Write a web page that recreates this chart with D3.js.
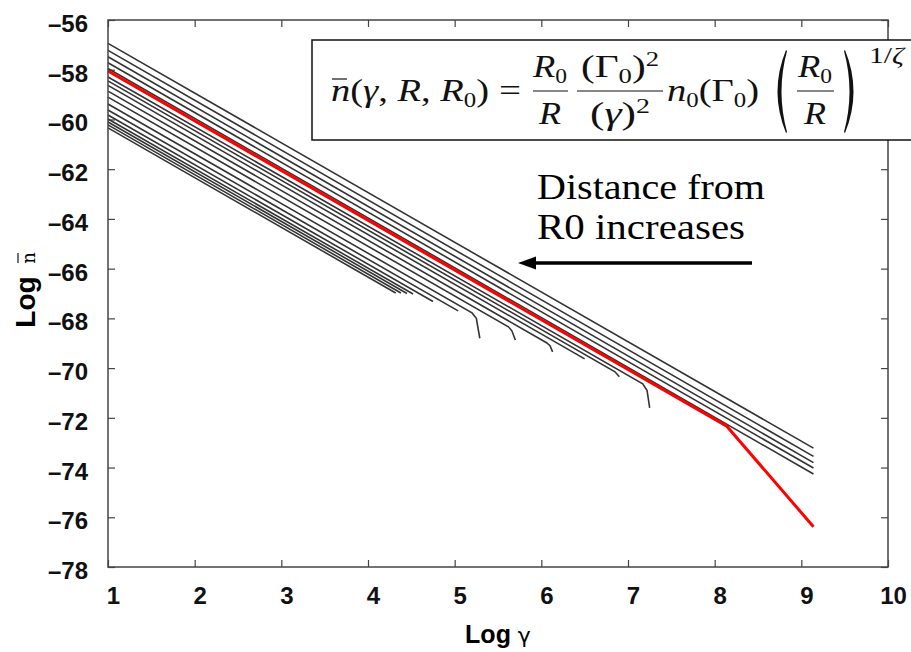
<!DOCTYPE html>
<meta charset="utf-8">
<style>
    body { margin: 0; background: #fff; }
    .axis text { font: bold 24px "Liberation Sans Narrow", "Liberation Sans", Arial, sans-serif; fill: #111; }
    .axis line { stroke: #444; stroke-width: 1.2; }
    .curve { fill: none; stroke: #333; stroke-width: 1.6; }
    .red { fill: none; stroke: #ff0000; stroke-width: 3; }
    .math { font-family: "Liberation Serif", "DejaVu Serif", serif; fill: #111; }
</style>
<body>
<script src="https://cdn.jsdelivr.net/npm/d3@7"></script>
<script>
var xTicks = [1, 2, 3, 4, 5, 6, 7, 8, 9, 10];
var yTicks = [-56, -58, -60, -62, -64, -66, -68, -70, -72, -74, -76, -78];

// red reference curve (R = R0)
var redCurve = [[1, -58.05], [8.14, -72.34], [9.14, -76.38]];

// black curves that run to the end
var upperCurves = [
    [[1, -56.94], [9.14, -73.22]],
    [[1, -57.22], [9.14, -73.55]],
    [[1, -57.48], [9.14, -73.80]],
    [[1, -57.72], [9.14, -74.02]],
    [[1, -57.95], [9.14, -74.26]]
];

// black curves that stop early (some drop at the cutoff)
var lowerCurves = [
    [[1, -58.29], [7.17, -70.63], [7.22, -70.9], [7.25, -71.6]],
    [[1, -58.45], [6.85, -70.15], [6.9, -70.35]],
    [[1, -58.63], [6.50, -69.63]],
    [[1, -58.86], [6.06, -68.98], [6.1, -69.1], [6.13, -69.35]],
    [[1, -59.10], [5.62, -68.34], [5.66, -68.5], [5.70, -68.87]],
    [[1, -59.38], [5.20, -67.78], [5.25, -68.0], [5.29, -68.8]],
    [[1, -59.62], [5.04, -67.70]],
    [[1, -59.82], [4.75, -67.32]],
    [[1, -59.98], [4.52, -67.02]],
    [[1, -60.10], [4.45, -67.00]],
    [[1, -60.22], [4.38, -66.98]],
    [[1, -60.34], [4.32, -66.98]]
];

var W = 911, H = 652;
var pL = 108, pR = 888, pT = 20, pB = 567;
var sans = "'Liberation Sans Narrow', 'Liberation Sans', Arial, sans-serif";

var svg = d3.select("body").append("svg")
    .attr("width", W)
    .attr("height", H);

var x = d3.scaleLinear().domain([1, 10]).range([pL, pR]);
var y = d3.scaleLinear().domain([-78, -56]).range([pB, pT]);

var fmt = function(d) { return d < 0 ? "\u2013" + Math.abs(d) : d; };

// axes, ticks pointing inward like gnuplot
var gx = svg.append("g").attr("class", "axis")
    .attr("transform", "translate(0," + pB + ")")
    .call(d3.axisBottom(x).tickValues(xTicks).tickSize(-7).tickPadding(20).tickFormat(fmt));
gx.selectAll("text").attr("dx", 5);
svg.append("g").attr("class", "axis")
    .attr("transform", "translate(0," + pT + ")")
    .call(d3.axisTop(x).tickValues(xTicks).tickSize(-7).tickFormat(""));
var gy = svg.append("g").attr("class", "axis")
    .attr("transform", "translate(" + pL + ",0)")
    .call(d3.axisLeft(y).tickValues(yTicks).tickSize(-7).tickPadding(20).tickFormat(fmt));
gy.selectAll("text").attr("dy", "0.48em");
svg.append("g").attr("class", "axis")
    .attr("transform", "translate(" + pR + ",0)")
    .call(d3.axisRight(y).tickValues(yTicks).tickSize(-7).tickFormat(""));
svg.selectAll(".domain").remove();

var line = d3.line()
    .x(function(d) { return x(d[0]); })
    .y(function(d) { return y(d[1]); });

svg.selectAll(".curve")
    .data(upperCurves.concat(lowerCurves))
    .enter()
    .append("path")
    .attr("class", "curve")
    .attr("d", line);

svg.append("path").datum(redCurve).attr("class", "red").attr("d", line);

// frame
svg.append("rect")
    .attr("x", pL).attr("y", pT)
    .attr("width", pR - pL).attr("height", pB - pT)
    .attr("fill", "none").attr("stroke", "#444").attr("stroke-width", 1.5);

// axis titles
svg.append("text")
    .attr("x", 498).attr("y", 643)
    .attr("text-anchor", "middle")
    .style("font", "bold 25px " + sans)
    .html("Log <tspan style='font-weight:normal;font-size:22px' font-family='DejaVu Sans'>\u03b3</tspan>");

var yl = svg.append("g").attr("transform", "translate(35,290) rotate(-90)");
yl.append("text")
    .attr("x", -12).attr("text-anchor", "middle")
    .style("font", "bold 28px " + sans)
    .text("Log");
yl.append("text")
    .attr("x", 32).attr("text-anchor", "middle")
    .style("font", "18px 'DejaVu Serif', serif")
    .text("n");
yl.append("line")
    .attr("x1", 27).attr("x2", 37).attr("y1", -17).attr("y2", -17)
    .attr("stroke", "#111").attr("stroke-width", 1.2);

// formula box
svg.append("rect")
    .attr("x", 312).attr("y", 40)
    .attr("width", 620).attr("height", 100)
    .attr("fill", "#fff").attr("stroke", "#111").attr("stroke-width", 1.5);

var m = svg.append("g").attr("class", "math");
var base = 101, num = 77, den = 124, bar = 91;

// TeX glyphs are wider than Times, so pieces are stretched to their width
function txt(x0, y0, size, html, anchor, len) {
    var t = m.append("text").attr("x", x0).attr("y", y0)
        .attr("text-anchor", anchor || "start")
        .style("font-size", size + "px")
        .html(html);
    if (len) t.attr("textLength", len).attr("lengthAdjust", "spacingAndGlyphs");
}
function hbar(x1, x2, y0) {
    m.append("line").attr("x1", x1).attr("x2", x2).attr("y1", y0).attr("y2", y0)
        .attr("stroke", "#111").attr("stroke-width", 1.2);
}
// thin TeX-like big parenthesis
function paren(xa, xb, y1, y2, leftSide) {
    var ym = (y1 + y2) / 2, p;
    if (leftSide) {
        p = "M" + xb + "," + y1 + " Q" + (xa - 3) + "," + ym + " " + xb + "," + y2 +
            " L" + (xb + 1) + "," + (y2 - 1) + " Q" + (xa + 4) + "," + ym + " " + (xb + 1) + "," + (y1 + 1) + " Z";
    } else {
        p = "M" + xa + "," + y1 + " Q" + (xb + 3) + "," + ym + " " + xa + "," + y2 +
            " L" + (xa - 1) + "," + (y2 - 1) + " Q" + (xb - 4) + "," + ym + " " + (xa - 1) + "," + (y1 + 1) + " Z";
    }
    m.append("path").attr("d", p).attr("fill", "#111");
}
var sub = "<tspan font-size='20' dy='6'>0</tspan>";
var up = "<tspan dy='-6'>";

txt(331, base, 31, "<tspan font-style='italic'>n</tspan>(<tspan font-style='italic'>\u03b3</tspan>, <tspan font-style='italic'>R</tspan>, <tspan font-style='italic'>R</tspan>" + sub + up + ")</tspan>", "start", 158);
hbar(332, 347, 79);
txt(510, base, 31, "=", "middle", 22);

txt(550, num, 31, "<tspan font-style='italic'>R</tspan>" + sub, "middle", 34);
hbar(533, 568, bar);
txt(550, den, 31, "<tspan font-style='italic'>R</tspan>", "middle", 22);

txt(620, num, 31, "(\u0393" + sub + up + ")</tspan><tspan font-size='20' dy='-11'>2</tspan>", "middle", 78);
hbar(577, 663, bar);
txt(620, den, 31, "(<tspan font-style='italic'>\u03b3</tspan>)<tspan font-size='20' dy='-11'>2</tspan>", "middle", 60);

txt(667, base, 31, "<tspan font-style='italic'>n</tspan>" + sub + up + "(\u0393</tspan>" + sub + up + ")</tspan>", "start", 92);

paren(772, 786, 50, 133, true);
txt(815, num, 31, "<tspan font-style='italic'>R</tspan>" + sub, "middle", 34);
hbar(797, 834, bar);
txt(815, den, 31, "<tspan font-style='italic'>R</tspan>", "middle", 22);
paren(845, 859, 50, 133, false);
txt(869, 63, 23, "1/<tspan font-style='italic'>\u03b6</tspan>", "start", 35);

// annotation
svg.append("text").attr("x", 537).attr("y", 199)
    .attr("textLength", 228).attr("lengthAdjust", "spacingAndGlyphs")
    .style("font", "35px 'Liberation Serif', 'Times New Roman', serif")
    .text("Distance from");
svg.append("text").attr("x", 537).attr("y", 239)
    .attr("textLength", 208).attr("lengthAdjust", "spacingAndGlyphs")
    .style("font", "35px 'Liberation Serif', 'Times New Roman', serif")
    .text("R0 increases");

svg.append("line")
    .attr("x1", 752).attr("x2", 532).attr("y1", 263).attr("y2", 263)
    .attr("stroke", "#000").attr("stroke-width", 3.5);
svg.append("path")
    .attr("d", "M518,263 L536,256.5 L536,269.5 Z")
    .attr("fill", "#000");
</script>
</body>
